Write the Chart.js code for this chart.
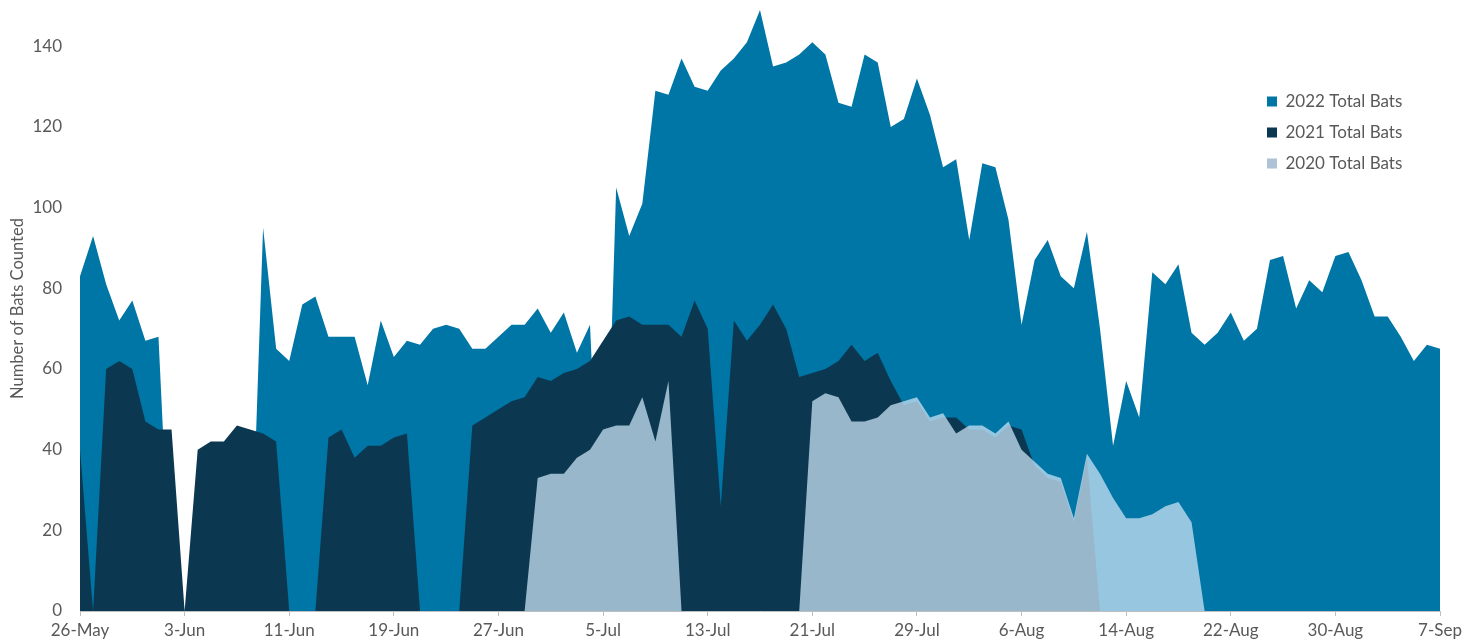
<!DOCTYPE html>
<html>
<head>
<meta charset="utf-8">
<script src="https://cdn.jsdelivr.net/npm/chart.js@4.4.0/dist/chart.umd.min.js"></script>
<style>
html,body{margin:0;padding:0;background:#fff;}
#wrap{position:relative;width:1479px;height:643px;}
</style>
</head>
<body>
<div id="wrap"><canvas id="bats"></canvas></div>
<script>
// one category per survey night, 26-May .. 7-Sep
const days = [
  '26-May','27-May','28-May','29-May','30-May','31-May',
  '1-Jun','2-Jun','3-Jun','4-Jun','5-Jun','6-Jun','7-Jun','8-Jun','9-Jun','10-Jun',
  '11-Jun','12-Jun','13-Jun','14-Jun','15-Jun','16-Jun','17-Jun','18-Jun','19-Jun','20-Jun',
  '21-Jun','22-Jun','23-Jun','24-Jun','25-Jun','26-Jun','27-Jun','28-Jun','29-Jun','30-Jun',
  '1-Jul','2-Jul','3-Jul','4-Jul','5-Jul','6-Jul','7-Jul','8-Jul','9-Jul','10-Jul',
  '11-Jul','12-Jul','13-Jul','14-Jul','15-Jul','16-Jul','17-Jul','18-Jul','19-Jul','20-Jul',
  '21-Jul','22-Jul','23-Jul','24-Jul','25-Jul','26-Jul','27-Jul','28-Jul','29-Jul','30-Jul','31-Jul',
  '1-Aug','2-Aug','3-Aug','4-Aug','5-Aug','6-Aug','7-Aug','8-Aug','9-Aug','10-Aug',
  '11-Aug','12-Aug','13-Aug','14-Aug','15-Aug','16-Aug','17-Aug','18-Aug','19-Aug','20-Aug',
  '21-Aug','22-Aug','23-Aug','24-Aug','25-Aug','26-Aug','27-Aug','28-Aug','29-Aug','30-Aug','31-Aug',
  '1-Sep','2-Sep','3-Sep','4-Sep','5-Sep','6-Sep','7-Sep'
];
const tickDays = ['26-May','3-Jun','11-Jun','19-Jun','27-Jun','5-Jul','13-Jul','21-Jul','29-Jul','6-Aug','14-Aug','22-Aug','30-Aug','7-Sep'];
const yTicks = [0,20,40,60,80,100,120,140];

const bats2022 = [
  83,93,81,72,77,67,68,0,0,0,
  0,0,0,0,95,65,62,76,78,68,
  68,68,56,72,63,67,66,70,71,70,
  65,65,68,71,71,75,69,74,64,71,
  0,105,93,101,129,128,137,130,129,134,
  137,141,149,135,136,138,141,138,126,125,
  138,136,120,122,132,123,110,112,92,111,
  110,97,71,87,92,83,80,94,70,41,
  57,48,84,81,86,69,66,69,74,67,
  70,87,88,75,82,79,88,89,82,73,
  73,68,62,66,65
];
const bats2021 = [
  40,0,60,62,60,47,45,45,0,40,
  42,42,46,45,44,42,0,0,0,43,
  45,38,41,41,43,44,0,0,0,0,
  46,48,50,52,53,58,57,59,60,62,
  67,72,73,71,71,71,68,77,70,26,
  72,67,71,76,70,58,59,60,62,66,
  62,64,57,51,52,47,48,48,45,45,
  43,46,45,36,33,32,22,38,0,0,
  0,0,0,0,0,0,0,0,0,0,
  0,0,0,0,0,0,0,0,0,0,
  0,0,0,0,0
];
const bats2020 = [
  0,0,0,0,0,0,0,0,0,0,
  0,0,0,0,0,0,0,0,0,0,
  0,0,0,0,0,0,0,0,0,0,
  0,0,0,0,0,33,34,34,38,40,
  45,46,46,53,42,57,0,0,0,0,
  0,0,0,0,0,0,52,54,53,47,
  47,48,51,52,53,48,49,44,46,46,
  44,47,40,37,34,33,23,39,34,28,
  23,23,24,26,27,22,0,0,0,0,
  0,0,0,0,0,0,0,0,0,0,
  0,0,0,0,0
];

const seriesNames = ['2022 Total Bats','2021 Total Bats','2020 Total Bats'];
const fillColors = ['#0076a6','#0b3850','rgba(200,226,243,0.75)'];
const keyColors = ['#0076a6','#0b3850','#aec3d5'];

// legend sits inside the plot, top right
const legendSpot = {
  id: 'legendSpot',
  afterLayout(chart) {
    const lg = chart.legend;
    if (!lg) return;
    lg.left = 1253; lg.top = 79; lg.right = 1479; lg.bottom = 220;
  }
};

Chart.defaults.font.family = 'Lato, "Open Sans", sans-serif';
Chart.defaults.color = '#595959';

const area = {fill: 'origin', borderColor: 'rgba(0,0,0,0)', borderWidth: 0, pointRadius: 0, pointHoverRadius: 0, tension: 0};

new Chart(document.getElementById('bats'), {
  type: 'line',
  data: {
    labels: days,
    datasets: [
      Object.assign({label: seriesNames[0], data: bats2022, backgroundColor: fillColors[0], order: 3}, area),
      Object.assign({label: seriesNames[1], data: bats2021, backgroundColor: fillColors[1], order: 2}, area),
      Object.assign({label: seriesNames[2], data: bats2020, backgroundColor: fillColors[2], order: 1}, area)
    ]
  },
  options: {
    responsive: true, maintainAspectRatio: false, animation: false,
    layout: {padding: {top: 6, right: 39, bottom: 0, left: 0}},
    plugins: {
      tooltip: {enabled: false},
      legend: {
        position: 'chartArea', align: 'start',
        labels: {
          boxWidth: 10, boxHeight: 10, padding: 14, color: '#595959', font: {size: 17},
          generateLabels: chart => Chart.defaults.plugins.legend.labels.generateLabels(chart)
            .map(l => Object.assign(l, {fillStyle: keyColors[l.datasetIndex], strokeStyle: 'rgba(0,0,0,0)', lineWidth: 0})),
          sort: (a, b) => a.datasetIndex - b.datasetIndex
        }
      }
    },
    scales: {
      x: {
        grid: {display: true, drawOnChartArea: false, drawTicks: true, tickLength: 5, color: '#bfbfbf'},
        border: {display: true, color: '#bfbfbf'},
        ticks: {autoSkip: false, maxRotation: 0, minRotation: 0, padding: 4, font: {size: 17}, color: '#595959'},
        afterBuildTicks: s => { s.ticks = s.ticks.filter(t => tickDays.includes(days[t.value])); },
        afterFit: s => { s.height = 32; s.paddingLeft = 0; s.paddingRight = 0; }
      },
      y: {
        min: 0, max: 150,
        grid: {display: false, drawTicks: false},
        border: {display: false},
        ticks: {padding: 18, font: {size: 17}, color: '#595959'},
        afterBuildTicks: s => { s.ticks = yTicks.map(v => ({value: v})); },
        afterFit: s => { s.width = 80; s.paddingTop = 0; s.paddingBottom = 0; },
        title: {display: true, text: 'Number of Bats Counted', color: '#595959', font: {size: 16.5}, padding: {top: 8, bottom: 0}}
      }
    }
  },
  plugins: [legendSpot]
});
</script>
</body>
</html>
